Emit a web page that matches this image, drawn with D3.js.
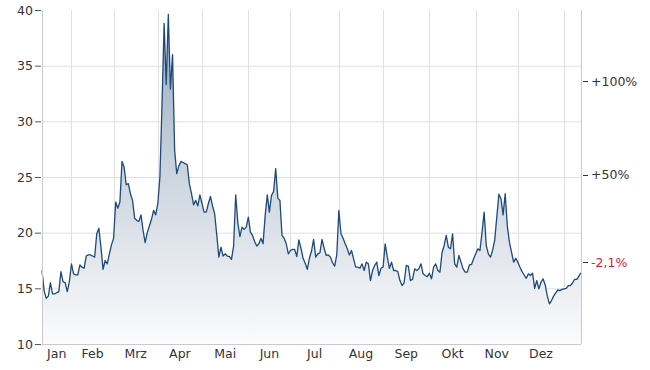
<!DOCTYPE html>
<html>
<head>
<meta charset="utf-8">
<script src="https://cdn.jsdelivr.net/npm/d3@7"></script>
<style>
  body { margin: 0; background: #fff; }
  text { font-family: "DejaVu Sans", Verdana, sans-serif; }
</style>
</head>
<body>
<div id="chart"></div>
<script>
// daily closing values (trading days)
let values = [
    16.6, 14.8, 14.1, 14.3, 15.5, 14.5, 14.5, 14.6, 14.7, 16.5,
    15.6, 15.5, 14.7, 15.6, 17.2, 16.3, 16.2, 16.2, 17.1, 16.9,
    16.8, 17.9, 18.0, 18.0, 17.9, 17.8, 19.9, 20.4, 18.7, 16.7,
    17.5, 17.2, 18.1, 18.9, 19.5, 22.75, 22.2, 22.75, 26.4, 25.9,
    24.3, 24.4, 23.5, 22.9, 21.3, 21.1, 21.0, 21.6, 20.2, 19.1,
    20.0, 20.6, 21.2, 22.0, 21.6, 22.6, 25.0, 31.5, 38.8, 33.3,
    39.6, 32.9, 36.0, 27.4, 25.3, 26.0, 26.4, 26.3, 26.2, 26.1,
    24.4, 23.5, 22.5, 22.9, 22.4, 23.4, 22.6, 21.85, 21.85, 22.6,
    23.25, 22.4, 21.7, 19.8, 17.8, 18.7, 17.9, 18.1, 17.9, 17.85,
    17.6, 18.8, 23.4, 20.9, 19.65, 20.5, 20.3, 20.5, 21.4, 20.05,
    19.75, 19.2, 18.8, 19.0, 19.5, 19.0, 21.55, 23.4, 21.85, 23.35,
    23.7, 25.75, 23.1, 22.9, 19.75, 19.5, 19.0, 18.1, 18.4, 18.5,
    18.5, 17.85, 19.35, 18.6, 17.7, 17.25, 16.7, 17.7, 18.35, 19.4,
    17.8, 18.1, 18.2, 19.4, 18.6, 17.95, 18.0, 17.8, 17.3, 17.0,
    18.0, 22.0, 19.9, 19.5, 19.0, 18.55, 18.0, 18.4, 17.65, 16.9,
    16.9, 16.8, 17.2, 16.6, 17.35, 17.2, 15.7, 16.6, 17.05, 17.35,
    16.15, 16.8, 16.9, 19.0, 17.8, 16.8, 17.35, 16.6, 16.6, 16.5,
    15.7, 15.25, 15.5, 17.05, 17.0, 15.7, 15.8, 16.75, 16.6, 16.75,
    17.2, 16.3, 16.15, 16.05, 16.35, 15.85, 16.9, 17.2, 16.6, 16.45,
    18.2, 18.85, 19.75, 18.7, 18.55, 19.9, 17.2, 16.9, 17.95, 17.35,
    16.75, 16.45, 16.45, 17.1, 17.15, 17.65, 18.1, 18.55, 18.4, 20.05,
    21.85, 18.85, 18.1, 17.8, 18.4, 19.3, 21.4, 23.45, 23.05, 21.6,
    23.5, 20.6, 19.15, 18.25, 17.35, 17.7, 17.35, 16.9, 16.5, 16.2,
    15.9, 16.3, 16.15, 16.35, 15.0, 15.7, 14.95, 15.55, 15.85, 15.3,
    14.3, 13.6, 13.9, 14.3, 14.6, 14.85, 14.8, 14.9, 14.95, 15.0,
    15.25, 15.25, 15.5, 15.8, 15.8, 16.1, 16.4
]

// month names and the trading-day index where each month starts
let monthNames = ["Jan", "Feb", "Mrz", "Apr", "Mai", "Jun", "Jul", "Aug", "Sep", "Okt", "Nov", "Dez"]
let monthStarts = [0, 14, 34, 55, 76, 98, 118, 141, 162, 184, 206, 226, 248]

// left axis ticks
let leftTicks = [10, 15, 20, 25, 30, 35, 40]

// right axis: performance labels and the values they sit at
let rightTickValues = [33.6, 25.2, 17.35]
let rightTickLabels = ["+100%", "+50%", "-2,1%"]
let rightTickColors = ["#333", "#333", "#d8213a"]

let width = 650, height = 370
let margin = {top: 10, right: 69, bottom: 26, left: 42}
let plot_w = width - margin.left - margin.right
let plot_h = height - margin.top - margin.bottom

let svg = d3.select("#chart")
    .append("svg")
    .attr("width", width)
    .attr("height", height)

let g = svg.append("g")
    .attr("transform", `translate(${margin.left}, ${margin.top})`)

let x = d3.scaleLinear()
    .domain([0, values.length - 1])
    .range([0, plot_w])

let y = d3.scaleLinear()
    .domain([10, 40])
    .range([plot_h, 0])

// gradient for the area under the line
let grad = svg.append("defs").append("linearGradient")
    .attr("id", "areaGrad")
    .attr("gradientUnits", "userSpaceOnUse")
    .attr("x1", 0).attr("x2", 0)
    .attr("y1", y(40)).attr("y2", y(10))
grad.append("stop").attr("offset", "0%").attr("stop-color", "#93a7bd")
grad.append("stop").attr("offset", "50%").attr("stop-color", "#cdd5df")
grad.append("stop").attr("offset", "100%").attr("stop-color", "#fbfbfc")

// horizontal grid
g.selectAll(".hgrid")
    .data(leftTicks.filter(d => d > 10 && d < 40))
    .enter()
    .append("line")
    .attr("x1", 0)
    .attr("x2", plot_w)
    .attr("y1", d => y(d) + 0.5)
    .attr("y2", d => y(d) + 0.5)
    .attr("stroke", "#dfe0e6")

// vertical grid at month starts
g.selectAll(".vgrid")
    .data(monthStarts.slice(1))
    .enter()
    .append("line")
    .attr("x1", d => Math.round(x(d)) + 0.5)
    .attr("x2", d => Math.round(x(d)) + 0.5)
    .attr("y1", 0)
    .attr("y2", plot_h)
    .attr("stroke", "#dfe0e6")

let area = d3.area()
    .x((d, i) => x(i))
    .y0(y(10))
    .y1(d => y(d))

let line = d3.line()
    .x((d, i) => x(i))
    .y(d => y(d))

g.append("path")
    .datum(values)
    .attr("d", area)
    .attr("fill", "url(#areaGrad)")

g.append("path")
    .datum(values)
    .attr("d", line)
    .attr("fill", "none")
    .attr("stroke", "#1d4a78")
    .attr("stroke-width", 1.3)
    .attr("stroke-linejoin", "round")

// frame lines: left, bottom, right
g.append("line").attr("x1", 0.5).attr("x2", 0.5).attr("y1", 0).attr("y2", plot_h).attr("stroke", "#c9cacf")
g.append("line").attr("x1", 0).attr("x2", plot_w).attr("y1", plot_h + 0.5).attr("y2", plot_h + 0.5).attr("stroke", "#c9cacf")
g.append("line").attr("x1", plot_w + 0.5).attr("x2", plot_w + 0.5).attr("y1", 0).attr("y2", plot_h).attr("stroke", "#c9cacf")

// left axis
let yAxis = d3.axisLeft(y)
    .tickValues(leftTicks)
    .tickSize(6)
    .tickPadding(3)

let yAxisG = g.append("g").call(yAxis)
yAxisG.select(".domain").remove()
yAxisG.selectAll("line").attr("stroke", "#555").attr("transform", "translate(-1,0)")
yAxisG.selectAll("text")
    .attr("fill", "#333")
    .style("font-size", "12.5px")
    .attr("font-family", null)

// right axis labels
let rightG = g.append("g").attr("transform", `translate(${plot_w}, 0)`)

rightG.selectAll("line")
    .data(rightTickValues)
    .enter()
    .append("line")
    .attr("x1", 2)
    .attr("x2", 7)
    .attr("y1", d => Math.round(y(d)) + 0.5)
    .attr("y2", d => Math.round(y(d)) + 0.5)
    .attr("stroke", "#333")

rightG.selectAll("text")
    .data(rightTickValues)
    .enter()
    .append("text")
    .attr("x", 10)
    .attr("y", d => y(d))
    .attr("dy", "0.35em")
    .attr("fill", (d, i) => rightTickColors[i])
    .style("font-size", "12.5px")
    .text((d, i) => rightTickLabels[i])

// month labels centered in each month
g.selectAll(".month")
    .data(monthNames)
    .enter()
    .append("text")
    .attr("x", (d, i) => x((monthStarts[i] + monthStarts[i + 1]) / 2))
    .attr("y", plot_h + 14)
    .style("text-anchor", "middle")
    .style("font-size", "12.5px")
    .attr("fill", "#333")
    .text(d => d)
</script>
</body>
</html>
